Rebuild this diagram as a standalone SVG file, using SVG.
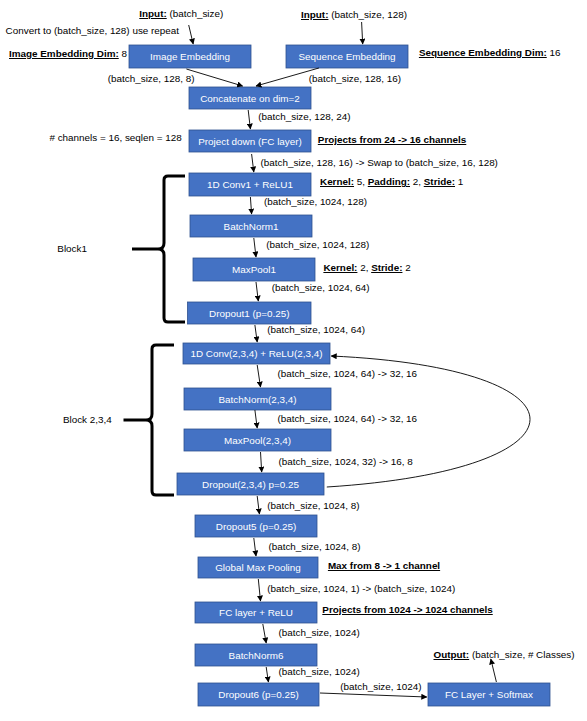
<svg xmlns="http://www.w3.org/2000/svg" width="587" height="721" viewBox="0 0 587 721">
<style>
text{font-family:"Liberation Sans",Arial,sans-serif;font-size:9.9px;fill:#000}
.box rect{fill:#4472C4;stroke:#2F528F;stroke-width:0.8}
.box text{fill:#fff;text-anchor:middle}
.b{font-weight:bold;text-decoration:underline}
.c line,.c path{stroke:#000;stroke-width:0.9;fill:none}
.brace{stroke:#000;stroke-width:3;fill:none;stroke-linecap:butt;stroke-linejoin:round}
</style>
<defs>
<marker id="ah" viewBox="0 0 10 10" refX="9" refY="5" markerWidth="6" markerHeight="6" markerUnits="userSpaceOnUse" orient="auto">
<path d="M0,0 L10,5 L0,10 z" fill="#000"/>
</marker>
</defs>
<rect width="587" height="721" fill="#fff"/>

<g id="n1" class="box"><rect x="129" y="45" width="122" height="23"/><text x="190" y="60">Image Embedding</text></g>
<g id="n2" class="box"><rect x="286" y="45" width="122" height="23"/><text x="347" y="60">Sequence Embedding</text></g>
<g id="n3" class="box"><rect x="189" y="87" width="122" height="22"/><text x="250" y="101.5">Concatenate on dim=2</text></g>
<g id="n4" class="box"><rect x="189" y="130" width="122" height="22"/><text x="250" y="144.5">Project down (FC layer)</text></g>
<g id="n5" class="box"><rect x="189" y="173" width="122" height="23"/><text x="250" y="188">1D Conv1 + ReLU1</text></g>
<g id="n6" class="box"><rect x="190" y="215" width="122" height="22"/><text x="251" y="229.5">BatchNorm1</text></g>
<g id="n7" class="box"><rect x="193" y="258" width="122" height="23"/><text x="254" y="273">MaxPool1</text></g>
<g id="n8" class="box"><rect x="187.5" y="302" width="123.5" height="22"/><text x="249.25" y="316.5">Dropout1 (p=0.25)</text></g>
<g id="n9" class="box"><rect x="183" y="343" width="147" height="21"/><text x="256.5" y="357">1D Conv(2,3,4) + ReLU(2,3,4)</text></g>
<g id="n10" class="box"><rect x="184" y="388" width="147" height="22"/><text x="257.5" y="402.5">BatchNorm(2,3,4)</text></g>
<g id="n11" class="box"><rect x="184" y="429" width="147" height="22"/><text x="257.5" y="443.5">MaxPool(2,3,4)</text></g>
<g id="n12" class="box"><rect x="177" y="473" width="147" height="22"/><text x="250.5" y="487.5">Dropout(2,3,4) p=0.25</text></g>
<g id="n13" class="box"><rect x="195" y="515" width="122" height="22"/><text x="256" y="529.5">Dropout5 (p=0.25)</text></g>
<g id="n14" class="box"><rect x="198" y="557" width="120" height="21"/><text x="258" y="571">Global Max Pooling</text></g>
<g id="n15" class="box"><rect x="195" y="602" width="122" height="21"/><text x="256" y="616">FC layer + ReLU</text></g>
<g id="n16" class="box"><rect x="195" y="644" width="122" height="22"/><text x="256" y="658.5">BatchNorm6</text></g>
<g id="n17" class="box"><rect x="198" y="683" width="121" height="23"/><text x="258.5" y="698">Dropout6 (p=0.25)</text></g>
<g id="n18" class="box"><rect x="428" y="683" width="122" height="23"/><text x="489" y="698">FC Layer + Softmax</text></g>

<g id="connectors" class="c">
<line x1="188.7" y1="25" x2="193.2" y2="44" marker-end="url(#ah)"/>
<line x1="361.6" y1="22" x2="362.7" y2="44" marker-end="url(#ah)"/>
<line x1="186.4" y1="69" x2="242.6" y2="86" marker-end="url(#ah)"/>
<line x1="318.9" y1="68" x2="256" y2="86" marker-end="url(#ah)"/>
<line x1="248.2" y1="110" x2="250.4" y2="129" marker-end="url(#ah)"/>
<line x1="251.6" y1="154" x2="253.8" y2="172" marker-end="url(#ah)"/>
<line x1="250.4" y1="197" x2="251.6" y2="214" marker-end="url(#ah)"/>
<line x1="253.8" y1="238" x2="256" y2="257" marker-end="url(#ah)"/>
<line x1="256" y1="282" x2="258.3" y2="301" marker-end="url(#ah)"/>
<line x1="254.9" y1="325" x2="257.2" y2="342" marker-end="url(#ah)"/>
<line x1="257.2" y1="365" x2="260.5" y2="387" marker-end="url(#ah)"/>
<line x1="254.9" y1="410" x2="257.2" y2="428" marker-end="url(#ah)"/>
<line x1="260.5" y1="452" x2="261.7" y2="472" marker-end="url(#ah)"/>
<line x1="257.2" y1="496" x2="259.4" y2="514" marker-end="url(#ah)"/>
<line x1="253.8" y1="538" x2="256" y2="556" marker-end="url(#ah)"/>
<line x1="258.3" y1="579" x2="260.5" y2="601" marker-end="url(#ah)"/>
<line x1="262.8" y1="624" x2="266.2" y2="643" marker-end="url(#ah)"/>
<line x1="266.2" y1="667" x2="268.4" y2="682" marker-end="url(#ah)"/>
<line x1="320" y1="693" x2="426.7" y2="697" marker-end="url(#ah)"/>
<line x1="496.4" y1="682" x2="490.8" y2="659" marker-end="url(#ah)"/>
<path d="M326.8,487 C597,470 597,368 331.3,356" marker-end="url(#ah)"/>
</g>

<g id="braces">
<path class="brace" d="M185,176 L168,176 Q164,176 164,180 L164,243 Q164,249 158,249 L132,249 M158,249 Q164,249 164,255 L164,318 Q164,322 168,322 L185,322"/>
<path class="brace" d="M174,345 L156,345 Q152,345 152,349 L152,414 Q152,420 146,420 L123.5,420 M146,420 Q152,420 152,426 L152,491 Q152,495 156,495 L174,495"/>
</g>

<g id="labels">
<text x="139.3" y="17"><tspan class="b">Input:</tspan> (batch_size)</text>
<text x="301" y="18"><tspan class="b">Input:</tspan> (batch_size, 128)</text>
<text x="5.6" y="34">Convert to (batch_size, 128) use repeat</text>
<text x="9" y="57"><tspan class="b">Image Embedding Dim:</tspan> 8</text>
<text x="418.9" y="56"><tspan class="b">Sequence Embedding Dim:</tspan> 16</text>
<text x="107.8" y="82">(batch_size, 128, 8)</text>
<text x="308.8" y="82">(batch_size, 128, 16)</text>
<text x="258.3" y="120">(batch_size, 128, 24)</text>
<text x="49.4" y="141"># channels = 16, seqlen = 128</text>
<text x="317.8" y="143" class="b">Projects from 24 -&gt; 16 channels</text>
<text x="260.5" y="166">(batch_size, 128, 16) -&gt; Swap to (batch_size, 16, 128)</text>
<text x="320" y="185"><tspan class="b">Kernel:</tspan> 5, <tspan class="b">Padding:</tspan> 2, <tspan class="b">Stride:</tspan> 1</text>
<text x="263.9" y="205">(batch_size, 1024, 128)</text>
<text x="266.2" y="248">(batch_size, 1024, 128)</text>
<text x="323.4" y="271"><tspan class="b">Kernel:</tspan> 2, <tspan class="b">Stride:</tspan> 2</text>
<text x="271.8" y="291">(batch_size, 1024, 64)</text>
<text x="267.3" y="333">(batch_size, 1024, 64)</text>
<text x="57.3" y="252">Block1</text>
<text x="277.4" y="377">(batch_size, 1024, 64) -&gt; 32, 16</text>
<text x="277.4" y="422">(batch_size, 1024, 64) -&gt; 32, 16</text>
<text x="278.5" y="465">(batch_size, 1024, 32) -&gt; 16, 8</text>
<text x="267.3" y="509">(batch_size, 1024, 8)</text>
<text x="62.9" y="423">Block 2,3,4</text>
<text x="268.4" y="550">(batch_size, 1024, 8)</text>
<text x="327.9" y="569" class="b">Max from 8 -&gt; 1 channel</text>
<text x="267.3" y="592">(batch_size, 1024, 1) -&gt; (batch_size, 1024)</text>
<text x="322.3" y="613" class="b">Projects from 1024 -&gt; 1024 channels</text>
<text x="278.5" y="636">(batch_size, 1024)</text>
<text x="278.5" y="675">(batch_size, 1024)</text>
<text x="340.3" y="690">(batch_size, 1024)</text>
<text x="433.5" y="658"><tspan class="b">Output:</tspan> (batch_size, # Classes)</text>
</g>
</svg>
